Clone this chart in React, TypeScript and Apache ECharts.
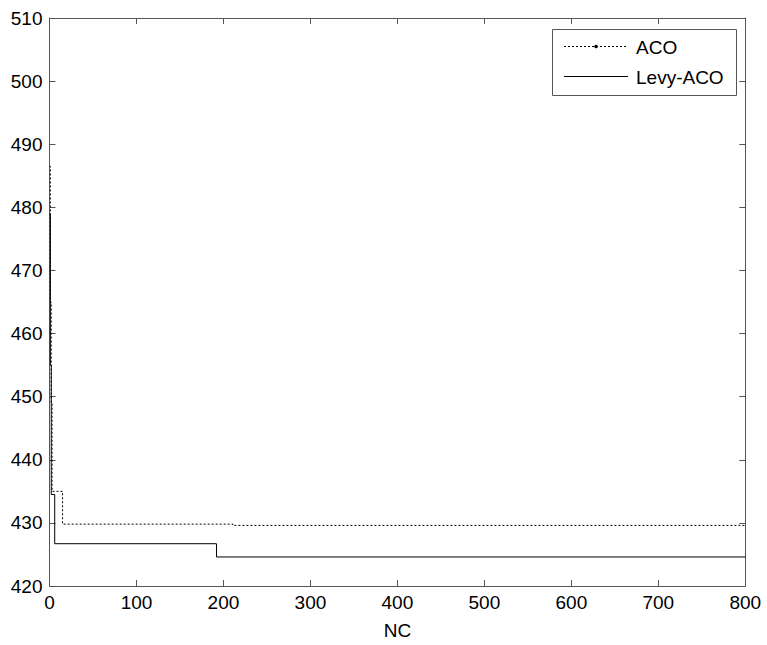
import React, { useEffect, useRef } from "react";
import * as echarts from "echarts";

const xTicks = [0, 100, 200, 300, 400, 500, 600, 700, 800];
const yTicks = [420, 430, 440, 450, 460, 470, 480, 490, 500, 510];
const seriesNames = ["ACO", "Levy-ACO"];

// step change points (x, value held from x onward)
const acoX = [0, 1, 2, 3, 15, 211, 800];
const acoY = [486.5, 465, 449, 435, 429.8, 429.6, 429.6];
const levyX = [0, 1, 2, 6, 192, 800];
const levyY = [479, 455, 434.5, 426.7, 424.6, 424.6];

const FONT = "'Liberation Sans', Arial, sans-serif";
const AXIS_COLOR = "#555555";

export default function App() {
  const ref = useRef<HTMLDivElement>(null);
  useEffect(() => {
    const chart = echarts.init(ref.current!, null, { renderer: "svg" });
    const axisCommon = {
      type: "value" as const,
      axisLine: { show: true, onZero: false, lineStyle: { color: AXIS_COLOR, width: 1 } },
      axisTick: { show: true, inside: true, length: 6, lineStyle: { color: AXIS_COLOR } },
      splitLine: { show: false },
    };
    const lx0 = 564, lx1 = 628;
    chart.setOption({
      animation: false,
      backgroundColor: "#ffffff",
      textStyle: { fontFamily: FONT },
      grid: { left: 49.5, right: 21.7, top: 18, bottom: 57.5, containLabel: false },
      graphic: [
        {
          type: "rect",
          shape: { x: 552.5, y: 29.5, width: 184, height: 66 },
          style: { fill: "#ffffff", stroke: AXIS_COLOR, lineWidth: 1 },
          z: 100,
        },
        {
          type: "line",
          shape: { x1: lx0, y1: 46.5, x2: lx1, y2: 46.5 },
          style: { stroke: "#000", lineWidth: 1, lineDash: [2, 2] },
          z: 101,
        },
        {
          type: "circle",
          shape: { cx: (lx0 + lx1) / 2, cy: 46.5, r: 1.8 },
          style: { fill: "#000" },
          z: 101,
        },
        {
          type: "text",
          x: 636,
          y: 47,
          style: { text: seriesNames[0], font: `19px ${FONT}`, fill: "#000", verticalAlign: "middle" },
          z: 101,
        },
        {
          type: "line",
          shape: { x1: lx0, y1: 76.5, x2: lx1, y2: 76.5 },
          style: { stroke: "#000", lineWidth: 1 },
          z: 101,
        },
        {
          type: "text",
          x: 636,
          y: 77,
          style: { text: seriesNames[1], font: `19px ${FONT}`, fill: "#000", verticalAlign: "middle" },
          z: 101,
        },
      ],
      xAxis: [
        {
          ...axisCommon,
          position: "bottom",
          min: 0,
          max: 800,
          interval: 100,
          name: "NC",
          nameLocation: "middle",
          nameGap: 35,
          nameTextStyle: { fontSize: 19, color: "#000", fontFamily: FONT },
          axisLabel: { fontSize: 19, color: "#000", margin: 7, fontFamily: FONT },
        },
        {
          ...axisCommon,
          position: "top",
          min: 0,
          max: 800,
          interval: 100,
          axisLabel: { show: false },
        },
      ],
      yAxis: [
        {
          ...axisCommon,
          position: "left",
          min: 420,
          max: 510,
          interval: 10,
          axisLabel: { fontSize: 19, color: "#000", margin: 7, fontFamily: FONT },
        },
        {
          ...axisCommon,
          position: "right",
          min: 420,
          max: 510,
          interval: 10,
          axisLabel: { show: false },
        },
      ],
      series: [
        {
          name: seriesNames[0],
          type: "line",
          step: "end",
          xAxisIndex: 0,
          yAxisIndex: 0,
          data: acoX.map((x, i) => [x, acoY[i]]),
          symbol: "none",
          lineStyle: { color: "#000", width: 1, type: [2, 2] },
          z: 3,
        },
        {
          name: seriesNames[1],
          type: "line",
          step: "end",
          xAxisIndex: 0,
          yAxisIndex: 0,
          data: levyX.map((x, i) => [x, levyY[i]]),
          symbol: "none",
          lineStyle: { color: "#000", width: 1, type: "solid" },
          z: 3,
        },
      ],
    });
    return () => chart.dispose();
  }, []);
  void xTicks;
  void yTicks;
  return <div ref={ref} style={{ width: 767, height: 645, position: "absolute", left: 0, top: 0 }} />;
}
